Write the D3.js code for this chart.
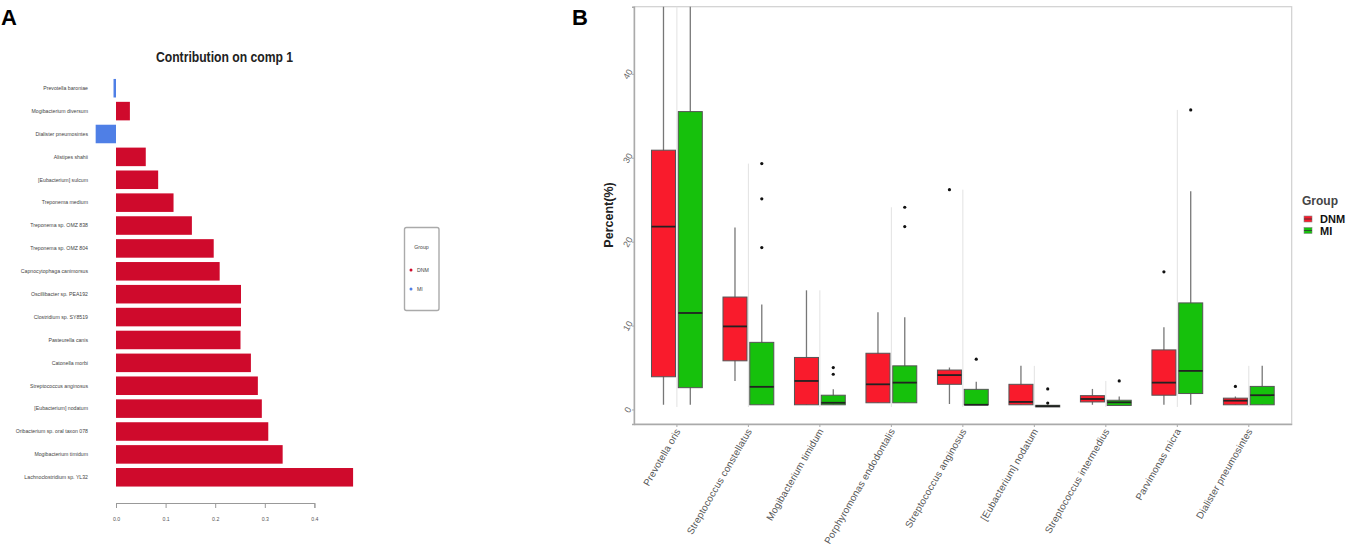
<!DOCTYPE html>
<html>
<head>
<meta charset="utf-8">
<script src="https://cdn.jsdelivr.net/npm/d3@7"></script>
<style>
  body { margin: 0; background: #fff; }
  svg { font-family: "Liberation Sans", Arial, sans-serif; }
</style>
</head>
<body>
<div id="chart"></div>
<script>
// panel A: loadings on component 1
const speciesA = ["Prevotella baroniae", "Mogibacterium diversum", "Dialister pneumosintes", "Alistipes shahii",
  "[Eubacterium] sulcum", "Treponema medium", "Treponema sp. OMZ 838", "Treponema sp. OMZ 804",
  "Capnocytophaga canimorsus", "Oscillibacter sp. PEA192", "Clostridium sp. SY8519", "Pasteurella canis",
  "Catonella morbi", "Streptococcus anginosus", "[Eubacterium] nodatum", "Oribacterium sp. oral taxon 078",
  "Mogibacterium timidum", "Lachnoclostridium sp. YL32"];
const contribA = [-0.005, 0.028, -0.041, 0.060, 0.085, 0.116, 0.153, 0.197, 0.209, 0.252, 0.252, 0.251,
  0.272, 0.286, 0.294, 0.307, 0.336, 0.478];
const groupA = ["MI", "DNM", "MI", "DNM", "DNM", "DNM", "DNM", "DNM", "DNM", "DNM", "DNM", "DNM",
  "DNM", "DNM", "DNM", "DNM", "DNM", "DNM"];
const ticksA = [0, 0.1, 0.2, 0.3, 0.4];

// panel B: boxplot stats per species (percent)
const speciesB = ["Prevotella oris", "Streptococcus constellatus", "Mogibacterium timidum",
  "Porphyromonas endodontalis", "Streptococcus anginosus", "[Eubacterium] nodatum",
  "Streptococcus intermedius", "Parvimonas micra", "Dialister pneumosintes"];
const dnmLow = [0.56, 3.4, 0.56, 0.8, 0.65, 0.56, 0.56, 0.56, 0.56];
const dnmQ1 = [3.9, 5.8, 0.56, 0.8, 3.0, 0.56, 0.9, 1.7, 0.56];
const dnmMed = [21.8, 9.9, 3.4, 3.0, 4.1, 0.9, 1.25, 3.2, 1.05];
const dnmQ3 = [30.9, 13.4, 6.2, 6.7, 4.7, 3.0, 1.65, 7.1, 1.35];
const dnmHigh = [55, 21.7, 14.2, 11.6, 5.0, 5.2, 2.45, 9.8, 1.55];
const dnmOut = [[], [], [], [], [26.2], [], [], [16.4], [2.75]];
const miLow = [0.56, 0.56, 0.56, 0.8, 0.56, 0.3, 0.48, 0.56, 0.56];
const miQ1 = [2.6, 0.56, 0.56, 0.8, 0.56, 0.3, 0.48, 1.9, 0.56];
const miMed = [11.5, 2.7, 0.8, 3.2, 0.56, 0.4, 0.85, 4.6, 1.7];
const miQ3 = [35.5, 8.0, 1.7, 5.2, 2.4, 0.5, 1.1, 12.7, 2.75];
const miHigh = [55, 12.5, 2.4, 11.0, 3.3, 0.6, 1.55, 26.0, 5.2];
const miOut = [[], [29.3, 25.1, 19.3], [5.0, 4.2], [24.1, 21.8], [6.0], [2.45, 0.77], [3.4], [35.7], []];
const rangeTop = [55, 29.3, 14.2, 24.1, 26.2, 5.2, 3.4, 35.7, 5.2];
const ticksB = [0, 10, 20, 30, 40];
const groupsB = ["DNM", "MI"];

const svg = d3.select("#chart").append("svg")
  .attr("width", 1350)
  .attr("height", 553);

// ---------- panel A ----------
const colA = {DNM: "#cf0a2c", MI: "#4f7fe6"};
const xA = d3.scaleLinear().domain([0, 0.4]).range([116, 314.4]);
const yA = d3.scaleBand().domain(speciesA).range([74.6, 490.9]).paddingInner(0.19).paddingOuter(0.19);

svg.append("text")
  .text("A")
  .attr("x", 1)
  .attr("y", 25)
  .attr("font-size", 22)
  .attr("font-weight", "bold");

svg.append("text")
  .text("Contribution on comp 1")
  .attr("x", 156)
  .attr("y", 62)
  .attr("font-size", 14)
  .attr("font-weight", "bold")
  .attr("fill", "#222")
  .attr("textLength", 137)
  .attr("lengthAdjust", "spacingAndGlyphs");

svg.append("g").selectAll("rect")
  .data(speciesA)
  .enter()
  .append("rect")
  .attr("x", (d, i) => xA(Math.min(0, contribA[i])))
  .attr("y", d => yA(d))
  .attr("width", (d, i) => Math.abs(xA(contribA[i]) - xA(0)))
  .attr("height", yA.bandwidth())
  .attr("fill", (d, i) => colA[groupA[i]]);

svg.append("g").selectAll("text")
  .data(speciesA)
  .enter()
  .append("text")
  .text(d => d)
  .attr("x", 88)
  .attr("y", d => yA(d) + yA.bandwidth() / 2 + 1.8)
  .attr("text-anchor", "end")
  .attr("font-size", 5.2)
  .attr("fill", "#444");

const axA = svg.append("g")
  .attr("transform", "translate(0,503)")
  .call(d3.axisBottom(xA).tickValues(ticksA).tickFormat(d3.format(".1f")).tickSize(5).tickPadding(9));
axA.select(".domain").attr("stroke", "#999");
axA.selectAll(".tick line").attr("stroke", "#999");
axA.selectAll(".tick text").attr("font-size", 5.2).attr("fill", "#555");

const legA = svg.append("g");
legA.append("rect")
  .attr("x", 404.5)
  .attr("y", 227.5)
  .attr("width", 34.5)
  .attr("height", 83)
  .attr("rx", 2)
  .attr("fill", "none")
  .attr("stroke", "#aaa")
  .attr("stroke-width", 1.4);
legA.append("text")
  .text("Group")
  .attr("x", 421.5)
  .attr("y", 249)
  .attr("text-anchor", "middle")
  .attr("font-size", 5.2)
  .attr("fill", "#444");
["DNM", "MI"].forEach((g, i) => {
  legA.append("circle")
    .attr("cx", 411)
    .attr("cy", 270 + i * 19)
    .attr("r", 1.5)
    .attr("fill", colA[g]);
  legA.append("text")
    .text(g)
    .attr("x", 417)
    .attr("y", 272 + i * 19)
    .attr("font-size", 5.2)
    .attr("fill", "#444");
});

// ---------- panel B ----------
const pLeft = 634, pRight = 1291.7, pTop = 6.7, pBottom = 424;
const colB = {DNM: "#f91b2c", MI: "#16c10c"};
const xB = d3.scaleBand().domain(speciesB).range([pLeft, pRight]).paddingInner(0).paddingOuter(0.1);
const cx = d => xB(d) + xB.bandwidth() / 2;
const yB = d3.scaleLinear().domain([-1.73, 48.0]).range([pBottom, pTop]);
const off = 13.4, bw = 24;

svg.append("text")
  .text("B")
  .attr("x", 572)
  .attr("y", 25)
  .attr("font-size", 22)
  .attr("font-weight", "bold");

svg.append("defs").append("clipPath")
  .attr("id", "clipB")
  .append("rect")
  .attr("x", pLeft)
  .attr("y", pTop)
  .attr("width", pRight - pLeft)
  .attr("height", pBottom - pTop);

svg.append("rect")
  .attr("x", pLeft)
  .attr("y", pTop)
  .attr("width", pRight - pLeft)
  .attr("height", pBottom - pTop)
  .attr("fill", "none")
  .attr("stroke", "#d0d0d0")
  .attr("stroke-width", 1.2);

const plotB = svg.append("g").attr("clip-path", "url(#clipB)");

// faint range line in each category
plotB.selectAll(".range")
  .data(speciesB)
  .enter()
  .append("line")
  .attr("class", "range")
  .attr("x1", d => cx(d))
  .attr("x2", d => cx(d))
  .attr("y1", (d, i) => yB(rangeTop[i]))
  .attr("y2", yB(0.3))
  .attr("stroke", "#e2e2e2")
  .attr("stroke-width", 1);

const stats = {
  DNM: {low: dnmLow, q1: dnmQ1, med: dnmMed, q3: dnmQ3, high: dnmHigh, out: dnmOut, dx: -off},
  MI: {low: miLow, q1: miQ1, med: miMed, q3: miQ3, high: miHigh, out: miOut, dx: off}
};

groupsB.forEach(g => {
  const s = stats[g];
  const gg = plotB.append("g");
  gg.selectAll(".whisker")
    .data(speciesB)
    .enter()
    .append("line")
    .attr("x1", d => cx(d) + s.dx)
    .attr("x2", d => cx(d) + s.dx)
    .attr("y1", (d, i) => yB(s.high[i]))
    .attr("y2", (d, i) => yB(s.low[i]))
    .attr("stroke", "#777")
    .attr("stroke-width", 1.3);
  gg.selectAll(".box")
    .data(speciesB)
    .enter()
    .append("rect")
    .attr("x", d => cx(d) + s.dx - bw / 2)
    .attr("y", (d, i) => yB(s.q3[i]))
    .attr("width", bw)
    .attr("height", (d, i) => Math.max(1, yB(s.q1[i]) - yB(s.q3[i])))
    .attr("fill", colB[g])
    .attr("stroke", "#555")
    .attr("stroke-width", 1);
  gg.selectAll(".median")
    .data(speciesB)
    .enter()
    .append("line")
    .attr("x1", d => cx(d) + s.dx - bw / 2)
    .attr("x2", d => cx(d) + s.dx + bw / 2)
    .attr("y1", (d, i) => yB(s.med[i]))
    .attr("y2", (d, i) => yB(s.med[i]))
    .attr("stroke", "#222")
    .attr("stroke-width", 1.8);
  speciesB.forEach((d, i) => {
    gg.selectAll(null)
      .data(s.out[i])
      .enter()
      .append("circle")
      .attr("cx", cx(d) + s.dx)
      .attr("cy", v => yB(v))
      .attr("r", 1.6)
      .attr("fill", "#111");
  });
});

const axYB = svg.append("g")
  .attr("transform", "translate(" + pLeft + ",0)")
  .call(d3.axisLeft(yB).tickValues(ticksB).tickSize(2).tickFormat(d3.format("d")));
axYB.select(".domain").attr("stroke", "#aaa").attr("stroke-width", 1.4);
axYB.selectAll(".tick line").attr("stroke", "#aaa");
axYB.selectAll(".tick text")
  .attr("x", -6)
  .attr("dy", "0.32em")
  .attr("text-anchor", "middle")
  .attr("transform", "rotate(-60,-6,0)")
  .attr("font-size", 9)
  .attr("fill", "#666");

const axXB = svg.append("g")
  .attr("transform", "translate(0," + pBottom + ")")
  .call(d3.axisBottom(xB).tickSize(3).tickSizeOuter(0));
axXB.select(".domain").attr("stroke", "#aaa").attr("stroke-width", 1.4);
axXB.selectAll(".tick line").attr("stroke", "#aaa");
axXB.selectAll(".tick text")
  .attr("x", 4)
  .attr("y", 7)
  .attr("dy", 0)
  .attr("text-anchor", "end")
  .attr("transform", "rotate(-60,4,7)")
  .attr("font-size", 9.8)
  .attr("letter-spacing", 0.15)
  .attr("fill", "#555");

svg.append("text")
  .text("Percent(%)")
  .attr("transform", "translate(613,215) rotate(-90)")
  .attr("text-anchor", "middle")
  .attr("font-size", 12.5)
  .attr("font-weight", "bold")
  .attr("fill", "#222");

const legB = svg.append("g");
legB.append("text")
  .text("Group")
  .attr("x", 1302)
  .attr("y", 205)
  .attr("font-size", 12)
  .attr("font-weight", "bold")
  .attr("fill", "#444");
groupsB.forEach((g, i) => {
  const y = 219 + i * 11.5;
  legB.append("rect")
    .attr("x", 1304)
    .attr("y", y - 3)
    .attr("width", 8)
    .attr("height", 6)
    .attr("fill", colB[g])
    .attr("stroke", "#888")
    .attr("stroke-width", 0.6);
  legB.append("line")
    .attr("x1", 1304)
    .attr("x2", 1312)
    .attr("y1", y)
    .attr("y2", y)
    .attr("stroke", "#333")
    .attr("stroke-width", 0.8);
  legB.append("text")
    .text(g)
    .attr("x", 1320)
    .attr("y", y + 4)
    .attr("font-size", 11)
    .attr("font-weight", "bold")
    .attr("fill", "#111");
});
</script>
</body>
</html>
